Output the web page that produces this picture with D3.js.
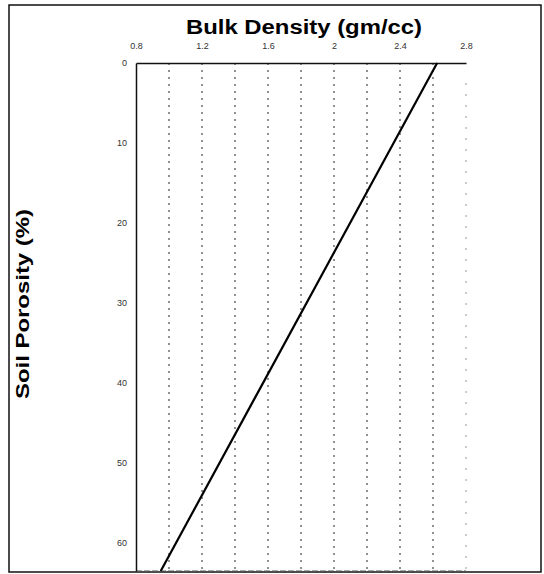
<!DOCTYPE html>
<html><head><meta charset="utf-8">
<script src="https://cdn.jsdelivr.net/npm/d3@7"></script>
<style>body{margin:0;background:#fff}svg{display:block}</style>
</head><body>
<script>
const xTickValues = [0.8, 1.2, 1.6, 2, 2.4, 2.8];
const xTickLabels = ["0.8", "1.2", "1.6", "2", "2.4", "2.8"];
const xGridValues = [1.0, 1.2, 1.4, 1.6, 1.8, 2.0, 2.2, 2.4, 2.6];
const yTickValues = [0, 10, 20, 30, 40, 50, 60];
const bulkDensity = [2.625, 0.95];
const porosity = [0, 63.5];

const W = 544, H = 574;
const svg = d3.select("body").append("svg").attr("width", W).attr("height", H);
const m = {left: 136, top: 63, right: 466, bottom: 571};
const x = d3.scaleLinear().domain([0.8, 2.8]).range([m.left, m.right]);
const y = d3.scaleLinear().domain([0, 63.5]).range([m.top, m.bottom]);

// outer frame
svg.append("rect").attr("x", 9).attr("y", 5).attr("width", 532).attr("height", 567)
  .attr("fill", "none").attr("stroke", "#111").attr("stroke-width", 1.5);

// grid
svg.append("g").selectAll("line").data(xGridValues).join("line")
  .attr("x1", d => x(d)).attr("x2", d => x(d))
  .attr("y1", m.top).attr("y2", m.bottom)
  .attr("stroke", "#222").attr("stroke-width", 1).attr("stroke-dasharray", "2,5");
// right edge faint
svg.append("line").attr("x1", m.right).attr("x2", m.right).attr("y1", m.top + 20).attr("y2", m.bottom)
  .attr("stroke", "#999").attr("stroke-dasharray", "2,9");
// bottom edge
svg.append("line").attr("x1", m.left).attr("x2", m.right).attr("y1", m.bottom).attr("y2", m.bottom)
  .attr("stroke", "#555").attr("stroke-dasharray", "6,2");

// top axis
const xAxis = d3.axisTop(x).tickValues(xTickValues).tickFormat((d, i) => xTickLabels[i]).tickSize(0).tickPadding(14);
const gx = svg.append("g").attr("transform", `translate(0,${m.top})`).call(xAxis);
gx.select(".domain").attr("stroke", "#111").attr("stroke-width", 1.5);
gx.selectAll("text").attr("font-family", "Liberation Sans, Arial, sans-serif").attr("font-size", 9).attr("fill", "#333");

// left axis
const yAxis = d3.axisLeft(y).tickValues(yTickValues).tickSize(0).tickPadding(9);
const gy = svg.append("g").attr("transform", `translate(${m.left},0)`).call(yAxis);
gy.select(".domain").attr("stroke", "#111").attr("stroke-width", 1.5);
gy.selectAll("text").attr("font-family", "Liberation Sans, Arial, sans-serif").attr("font-size", 9).attr("fill", "#333");

// line
const pts = bulkDensity.map((b, i) => [b, porosity[i]]);
svg.append("path").datum(pts)
  .attr("d", d3.line().x(d => x(d[0])).y(d => y(d[1])))
  .attr("fill", "none").attr("stroke", "#000").attr("stroke-width", 2.2);

// titles
svg.append("text").attr("x", 304).attr("y", 34).attr("text-anchor", "middle")
  .attr("font-family", "Liberation Sans, Arial, sans-serif").attr("font-weight", "bold").attr("font-size", 20)
  .attr("textLength", 236).attr("lengthAdjust", "spacingAndGlyphs")
  .text("Bulk Density (gm/cc)");
svg.append("text").attr("transform", "translate(29,304) rotate(-90)").attr("text-anchor", "middle")
  .attr("font-family", "Liberation Sans, Arial, sans-serif").attr("font-weight", "bold").attr("font-size", 18)
  .attr("textLength", 190).attr("lengthAdjust", "spacingAndGlyphs")
  .text("Soil Porosity (%)");
</script>
</body></html>
